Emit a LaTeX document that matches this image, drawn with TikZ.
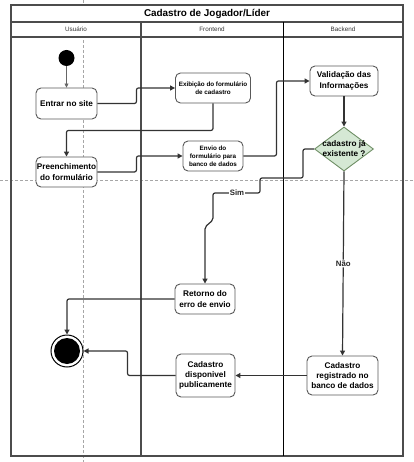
\documentclass[tikz,border=0pt]{standalone}
\usepackage{fontspec}
\setmainfont{Liberation Sans}
\usetikzlibrary{arrows.meta,shapes.geometric}
\definecolor{decfill}{HTML}{D5E8D4}
\definecolor{decline}{HTML}{6F8F66}
\begin{document}
\begin{tikzpicture}[x=1pt,y=-1pt,
  guide/.style={draw=black!35, dashed, line width=0.6pt, dash pattern=on 3pt off 2pt},
  poolline/.style={draw=black!70, line width=1.2pt},
  act/.style={draw=black!65, fill=white, rounded corners=5pt, line width=0.9pt,
    align=center, inner sep=0pt, font=\bfseries\fontsize{8.2}{10.3}\selectfont},
  smallact/.style={act, font=\bfseries\fontsize{6.3}{7.8}\selectfont},
  flow/.style={draw=black!80, line width=1.2pt, rounded corners=2pt,
    -{Triangle[length=5pt,width=5pt]}},
  edgelabel/.style={fill=white, inner sep=1pt, text=black!85,
    font=\bfseries\fontsize{7.8}{9}\selectfont},
  lanehead/.style={font=\fontsize{6.3}{7.5}\selectfont, text=black!80}
]
\useasboundingbox (0,0) rectangle (413,462);

% guide lines behind everything
\draw[guide] (83,0) -- (83,462);
\draw[guide] (0,180) -- (413,180);

% swimlane pool
\fill[white] (11,5) rectangle (403,37);
\draw[poolline] (11,5) rectangle (403,456);
\draw[poolline] (11,22) -- (403,22);
\draw[poolline] (11,37) -- (403,37);
\draw[poolline] (141,22) -- (141,456);
\draw[draw=black, line width=0.9pt] (283,22) -- (283,456);
\node[font=\bfseries\fontsize{9.9}{11}\selectfont] (title) at (207,14) {Cadastro de Jogador/Líder};
\node[lanehead] (laneU) at (76,29.5) {Usuário};
\node[lanehead] (laneF) at (212,29.5) {Frontend};
\node[lanehead] (laneB) at (343,29.5) {Backend};

% activities
\node[circle, fill=black, minimum size=16pt, inner sep=0pt] (start) at (66.5,58) {};
\node[act, minimum width=61pt, minimum height=31pt] (entrar) at (66.5,103.5) {Entrar no site};
\node[smallact, minimum width=75pt, minimum height=30pt] (exib) at (213,88) {Exibição do formulário\\de cadastro};
\node[act, minimum width=61pt, minimum height=30pt] (preench) at (66.5,172) {Preenchimento\\do formulário};
\node[smallact, minimum width=60pt, minimum height=30pt] (envio) at (213,156) {Envio do\\formulário para\\banco de dados};
\node[act, minimum width=68pt, minimum height=30pt] (valid) at (344,81) {Validação das\\Informações};
\node[diamond, draw=decline, fill=decfill, line width=0.9pt, minimum width=59pt,
  minimum height=44pt, inner sep=0pt] (dec) at (344,149) {};
\node[align=center, font=\bfseries\fontsize{8.2}{10}\selectfont] (dectext) at (dec) {cadastro já\\existente ?};
\node[act, minimum width=60pt, minimum height=30pt] (retorno) at (205,299) {Retorno do\\erro de envio};
\node[act, minimum width=71pt, minimum height=39pt] (registr) at (342.5,375.5) {Cadastro\\registrado no\\banco de dados};
\node[act, minimum width=59pt, minimum height=43pt] (dispon) at (205.5,375.5) {Cadastro\\disponivel\\publicamente};
\node[circle, draw=black, fill=white, line width=1pt, minimum size=32pt, inner sep=0pt] (end) at (67,351) {};
\node[circle, fill=black, minimum size=26pt, inner sep=0pt] (endcore) at (end) {};

% control flow
\draw[draw=black!60, line width=0.7pt, -{Triangle[length=4pt,width=4pt]}] (start) -- (entrar);
\draw[flow] (entrar.east) -- ++(39,0) |- (exib.west);
\draw[flow] (exib.south) -- ++(0,27) -| (preench.north);
\draw[flow] (preench.east) -- ++(39,0) |- (envio.west);
\draw[flow] (envio.east) -- ++(33,0) |- (valid.west);
\draw[flow] (valid) -- (dec);
\draw[flow] (dec.west) -- (303,149) -- (303,178) -- (260,178) -- (260,193)
  -- (213,193) -- (213,220) -- (205,227) -- (retorno.north);
\node[edgelabel] (sim) at (237,193) {Sim};
\draw[flow] (dec.south) -- (registr.north) node[edgelabel, pos=0.5] (nao) {Não};
\draw[flow] (registr.west) -- (dispon.east);
\draw[flow] (dispon.west) -- ++(-48,0) |- (end.east);
\draw[flow] (retorno.west) -| (end.north);
\end{tikzpicture}
\end{document}
